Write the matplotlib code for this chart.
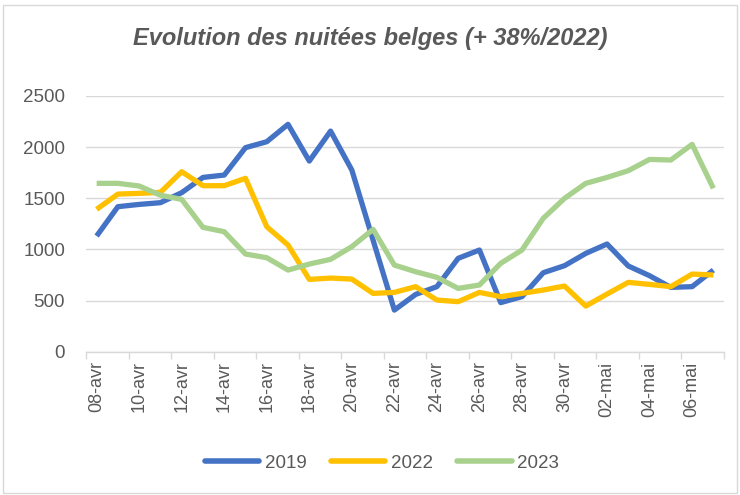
import matplotlib
matplotlib.use("Agg")
import matplotlib.pyplot as plt
from matplotlib.patches import Rectangle

dates = ["08-avr", "09-avr", "10-avr", "11-avr", "12-avr", "13-avr", "14-avr", "15-avr",
         "16-avr", "17-avr", "18-avr", "19-avr", "20-avr", "21-avr", "22-avr", "23-avr",
         "24-avr", "25-avr", "26-avr", "27-avr", "28-avr", "29-avr", "30-avr", "01-mai",
         "02-mai", "03-mai", "04-mai", "05-mai", "06-mai", "07-mai"]

s2019 = [1131, 1418, 1440, 1457, 1555, 1704, 1727, 1995, 2053, 2223, 1864, 2157, 1776, 1090,
         407, 560, 636, 913, 994, 480, 538, 772, 841, 961, 1053, 838, 743, 629, 636, 798]
s2022 = [1392, 1541, 1548, 1558, 1760, 1623, 1623, 1695, 1222, 1043, 707, 720, 710, 570,
         580, 636, 505, 489, 580, 538, 570, 603, 642, 446, 564, 678, 658, 636, 759, 750]
s2023 = [1646, 1646, 1620, 1530, 1489, 1216, 1173, 955, 919, 798, 857, 903, 1027, 1196,
         847, 782, 727, 619, 652, 864, 994, 1304, 1499, 1646, 1704, 1770, 1880, 1874, 2027, 1597]

series = [("2019", s2019, "#4472C4"), ("2022", s2022, "#FFC000"), ("2023", s2023, "#A9D18E")]

plt.rcParams['font.family'] = ['Liberation Sans', 'DejaVu Sans']

fig = plt.figure(figsize=(7.4, 4.95), dpi=100)
ax = fig.add_axes([86/740, 1 - 351.7/495, (724 - 86)/740, (351.7 - 96)/495])

x = list(range(len(dates)))
for name, vals, col in series:
    ax.plot(x, vals, color=col, lw=3.8, label=name, solid_joinstyle='round',
            solid_capstyle='butt')

ax.set_xlim(-0.5, len(dates) - 0.5)
ax.set_ylim(0, 2500)
ax.set_yticks(range(0, 2501, 500))
ax.yaxis.grid(True, color="#D9D9D9", lw=1)
ax.set_axisbelow(True)
for sp in ["top", "right", "left"]:
    ax.spines[sp].set_visible(False)
ax.spines["bottom"].set_color("#D9D9D9")
ax.spines["bottom"].set_linewidth(1)
ax.tick_params(axis="y", length=0, labelsize=13.5, labelcolor="#595959", pad=15)

ax.set_xticks(x[::2])
ax.set_xticklabels(dates[::2], rotation=90, fontsize=13, color="#595959")
ax.tick_params(axis="x", length=0, pad=7)
ax.set_xticks([i - 0.5 for i in range(0, len(dates) + 1, 2)], minor=True)
ax.tick_params(axis="x", which="minor", length=5, color="#D9D9D9", width=1)

fig.text(0.5, 1 - 38/495, "Evolution des nuitées belges (+ 38%/2022)", ha="center", va="center",
         fontsize=17, fontweight="bold", fontstyle="italic", color="#595959")

leg = fig.legend(loc="center", bbox_to_anchor=(382/740, 1 - 463/495), ncol=3, frameon=False,
                 fontsize=13.5, handlelength=2.9, handletextpad=0.3, columnspacing=1.3)
for t in leg.get_texts():
    t.set_color("#595959")
for h in leg.legend_handles:
    h.set_solid_capstyle('round')
    h.set_linewidth(4)

fig.patches.append(Rectangle((3/740, 2/495), 734/740, 488/495, transform=fig.transFigure,
                             fill=False, edgecolor="#D9D9D9", lw=1))

fig.savefig("out.png", dpi=100)
